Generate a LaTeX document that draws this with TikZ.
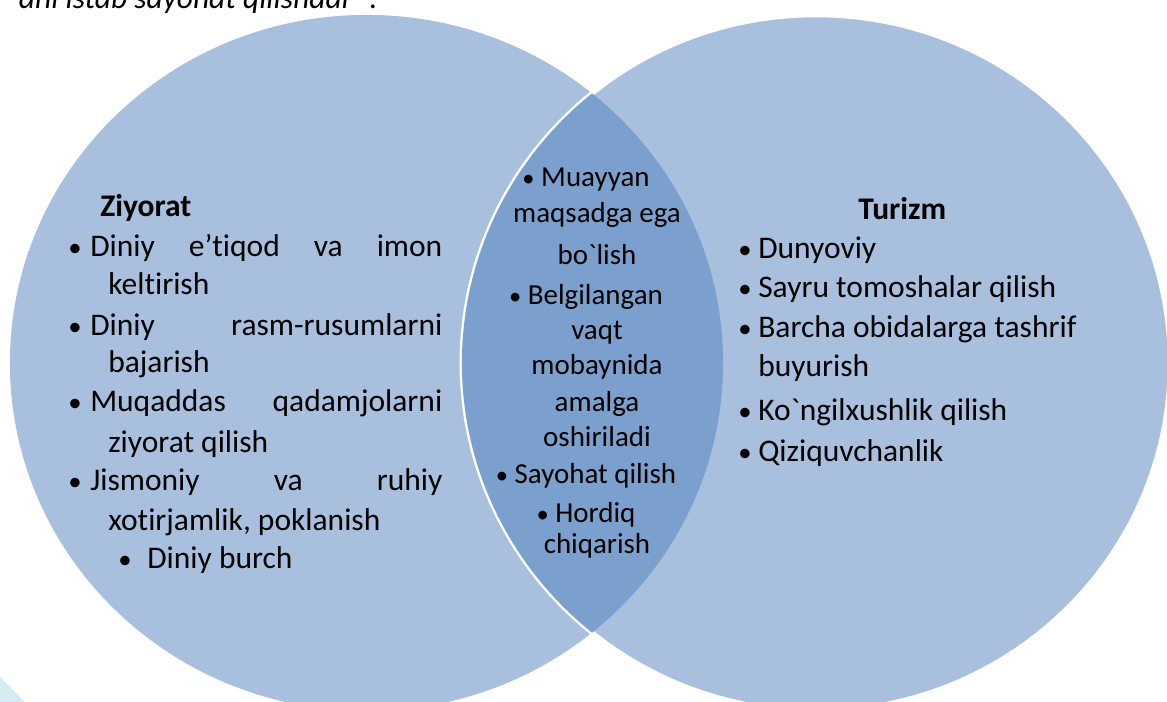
\documentclass[tikz,border=0pt]{standalone}
\usepackage{fontspec}
\setmainfont{Carlito}[Ligatures={TeXOff,NoCommon}]
\definecolor{lightfill}{RGB}{168,192,222}
\definecolor{lensfill}{RGB}{124,160,205}
\definecolor{cyanfill}{RGB}{212,235,241}
\tikzset{
  txt/.style={inner sep=0pt, anchor=base west, font=\fontsize{22.4}{27}\selectfont},
  ctxt/.style={inner sep=0pt, anchor=base, font=\fontsize{20.6}{25}\selectfont},
  bul/.style={inner sep=0pt, anchor=base, font=\fontsize{19}{23}\selectfont},
  head/.style={inner sep=0pt, anchor=base west, font=\fontsize{22.4}{27}\selectfont\bfseries},
}
\newcommand{\jline}[1]{\makebox[8.8cm][s]{#1}}
\newcommand{\cb}{{\fontsize{17.5}{21}\selectfont •}}
\begin{document}
\begin{tikzpicture}[x=0.025cm, y=-0.025cm]
\useasboundingbox (0,0) rectangle (1167,702);
\clip (0,0) rectangle (1167,702);
% circles
\fill[lightfill] (366.5,363) ellipse [x radius=8.9125cm, y radius=8.7cm];
\filldraw[fill=lightfill, draw=white, line width=3.4pt] (816,363) ellipse [x radius=8.85cm, y radius=8.7cm];
\begin{scope}
  \clip (366.5,363) ellipse [x radius=8.9125cm, y radius=8.7cm];
  \fill[lensfill] (816,363) ellipse [x radius=8.85cm, y radius=8.7cm];
\end{scope}
% corner shape
\fill[cyanfill] (0,677) -- (25,702) -- (0,702) -- cycle;
% top text
\node[inner sep=0pt, anchor=base east, font=\fontsize{22.4}{27}\selectfont\itshape] (top) at (378,9) {ani istab sayohat qilishadi” .};
% left
\node[head] (zh) at (100,217) {Ziyorat};
\node[bul] (lb1) at (75,257) {•};
\node[txt] (l1) at (90,257) {\jline{Diniy e’tiqod va imon}};
\node[txt] (l1b) at (108,295) {keltirish};
\node[bul] (lb2) at (75,335) {•};
\node[txt] (l2) at (90,335) {\jline{Diniy rasm-rusumlarni}};
\node[txt] (l2b) at (108,373) {bajarish};
\node[bul] (lb3) at (75,412) {•};
\node[txt] (l3) at (90,412) {\jline{Muqaddas qadamjolarni}};
\node[txt] (l3b) at (108,452) {ziyorat qilish};
\node[bul] (lb4) at (75,490) {•};
\node[txt] (l4) at (90,490) {\jline{Jismoniy va ruhiy}};
\node[txt] (l4b) at (108,530) {xotirjamlik, poklanish};
\node[bul] (lb5) at (125,568) {•};
\node[txt] (l5) at (147,568) {Diniy burch};
% center
\node[ctxt] (c1) at (586,187) {\cb\ Muayyan};
\node[ctxt] (c2) at (597,223) {maqsadga ega};
\node[ctxt] (c3) at (597,265) {bo`lish};
\node[ctxt] (c4) at (586,305) {\cb\ Belgilangan};
\node[ctxt] (c5) at (597,340) {vaqt};
\node[ctxt] (c6) at (597,375) {mobaynida};
\node[ctxt] (c7) at (597,412) {amalga};
\node[ctxt] (c8) at (597,447) {oshiriladi};
\node[ctxt] (c9) at (586,483) {\cb\ Sayohat qilish};
\node[ctxt] (c10) at (586,522) {\cb\ Hordiq};
\node[ctxt] (c11) at (597,553) {chiqarish};
% right
\node[head] (th) at (858,220) {Turizm};
\node[bul] (rb1) at (745,259) {•};
\node[txt] (r1) at (758,259) {Dunyoviy};
\node[bul] (rb2) at (745,298) {•};
\node[txt] (r2) at (758,298) {Sayru tomoshalar qilish};
\node[bul] (rb3) at (745,337) {•};
\node[txt] (r3) at (758,337) {Barcha obidalarga tashrif};
\node[txt] (r3b) at (758,376) {buyurish};
\node[bul] (rb4) at (745,420) {•};
\node[txt] (r4) at (758,420) {Ko`ngilxushlik qilish};
\node[bul] (rb5) at (745,461) {•};
\node[txt] (r5) at (758,461) {Qiziquvchanlik};
\end{tikzpicture}
\end{document}
